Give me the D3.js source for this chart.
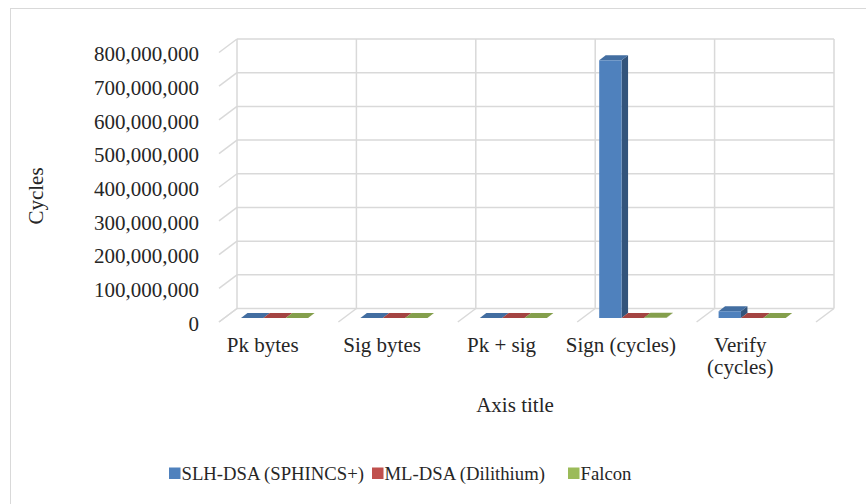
<!DOCTYPE html>
<html>
<head>
<meta charset="utf-8">
<script src="https://cdn.jsdelivr.net/npm/d3@7"></script>
<style>
  html, body { margin: 0; padding: 0; background: #fff; }
  svg { display: block; }
</style>
</head>
<body>
<svg id="chart" width="866" height="504"></svg>
<script>
// Categories on the x axis
const categories = ["Pk bytes", "Sig bytes", "Pk + sig", "Sign (cycles)", "Verify (cycles)"];
// Wrapped label lines for each category
const categoryLines = [["Pk bytes"], ["Sig bytes"], ["Pk + sig"], ["Sign (cycles)"], ["Verify", "(cycles)"]];

// Series
const seriesNames = ["SLH-DSA (SPHINCS+)", "ML-DSA (Dilithium)", "Falcon"];
const slhDsa = [32, 7856, 7888, 765000000, 20000000];
const mlDsa = [1312, 2420, 3732, 330000, 120000];
const falcon = [897, 666, 1563, 1000000, 80000];
const seriesValues = [slhDsa, mlDsa, falcon];
const seriesColors = ["#4f81bd", "#c0504d", "#9bbb59"];

// Value axis ticks
const yTicks = [0, 100000000, 200000000, 300000000, 400000000, 500000000, 600000000, 700000000, 800000000];

const FONT = "'Liberation Serif'";
const textFill = "#262626";
const svg = d3.select("#chart");

// Shared text styling
function label(sel, size = 21) {
  return sel.style("font-family", FONT).attr("font-size", size).attr("fill", textFill);
}

// Chart area frame
svg.append("rect")
  .attr("x", 10.5).attr("y", 8.5).attr("width", 900).attr("height", 600)
  .attr("fill", "none").attr("stroke", "#d9d9d9").attr("stroke-width", 1);

// Back wall geometry
const wallLeft = 237, wallRight = 834, wallTop = 39, wallBottom = 308.5;
// Oblique depth from back wall to front edge of the floor
const depthX = -18, depthY = 13.5;
// Bar placement relative to the back wall base, and bar depth
const barFrontDX = 4, barFrontDY = 9.5;
const barDepthX = 6.5, barDepthY = -5;
const clusterFrac = 0.562;

const x = d3.scaleBand().domain(categories).range([wallLeft, wallRight]).padding(0);
const y = d3.scaleLinear().domain([0, 800000000]).range([wallBottom, wallTop]);
const inner = d3.scaleBand().domain(d3.range(seriesNames.length))
  .range([0, x.bandwidth() * clusterFrac]).padding(0);

const grid = svg.append("g").attr("stroke", "#d9d9d9").attr("stroke-width", 1.5).attr("fill", "none");

// Horizontal gridlines on the back wall plus side-wall diagonals
yTicks.forEach(t => {
  const yy = y(t);
  grid.append("line").attr("x1", wallLeft).attr("x2", wallRight).attr("y1", yy).attr("y2", yy);
  grid.append("line").attr("x1", wallLeft).attr("y1", yy)
    .attr("x2", wallLeft + depthX).attr("y2", yy + depthY);
});

// Vertical category dividers on the back wall and floor diagonals
const dividers = categories.map(c => x(c)).concat([wallRight]);
dividers.forEach(xx => {
  grid.append("line").attr("x1", xx).attr("x2", xx).attr("y1", wallTop).attr("y2", wallBottom);
  grid.append("line").attr("x1", xx).attr("y1", wallBottom)
    .attr("x2", xx + depthX).attr("y2", wallBottom + depthY);
});

// Y axis labels
const fmt = d3.format(",");
svg.append("g").selectAll("text").data(yTicks).join("text")
  .call(label)
  .attr("x", 199)
  .attr("y", d => y(d) + depthY + 1.5)
  .attr("dy", "0.35em")
  .attr("text-anchor", "end")
  .text(d => fmt(d));

// 3D columns
const shade = (c, k) => d3.color(c).darker(k).formatHex();
const bars = svg.append("g");
categories.forEach((cat, ci) => {
  seriesValues.forEach((vals, si) => {
    const v = vals[ci];
    const x0 = x(cat) + barFrontDX + inner(si);
    const x1 = x0 + inner.bandwidth();
    const base = wallBottom + barFrontDY;
    const top = base - (wallBottom - y(v));
    const col = seriesColors[si];
    const g = bars.append("g");
    // right side face
    g.append("path")
      .attr("d", `M${x1},${base}L${x1 + barDepthX},${base + barDepthY}L${x1 + barDepthX},${top + barDepthY}L${x1},${top}Z`)
      .attr("fill", shade(col, 1.2));
    // top face
    g.append("path")
      .attr("d", `M${x0},${top}L${x1},${top}L${x1 + barDepthX},${top + barDepthY}L${x0 + barDepthX},${top + barDepthY}Z`)
      .attr("fill", shade(col, 0.45));
    // front face
    if (base - top > 0.5) {
      g.append("rect")
        .attr("x", x0).attr("y", top).attr("width", x1 - x0).attr("height", base - top)
        .attr("fill", col);
    }
  });
});

// Category labels
const catG = svg.append("g");
categories.forEach((cat, ci) => {
  const cx = x(cat) + x.bandwidth() / 2 - 34;
  const t = catG.append("text")
    .call(label)
    .attr("x", cx).attr("y", 352)
    .attr("text-anchor", "middle");
  categoryLines[ci].forEach((line, li) => {
    t.append("tspan").attr("x", cx).attr("dy", li === 0 ? 0 : 22).text(line);
  });
});

// Axis titles
svg.append("text")
  .call(label)
  .attr("x", 515).attr("y", 412)
  .attr("text-anchor", "middle")
  .text("Axis title");

svg.append("text")
  .call(label)
  .attr("transform", "translate(43,196) rotate(-90)")
  .attr("text-anchor", "middle")
  .text("Cycles");

// Legend
const legendX = [169, 372, 568];
const legend = svg.append("g");
seriesNames.forEach((name, i) => {
  legend.append("rect")
    .attr("x", legendX[i]).attr("y", 467.5)
    .attr("width", 11.5).attr("height", 11.5)
    .attr("fill", seriesColors[i]);
  legend.append("text")
    .call(label, 18.7)
    .attr("x", legendX[i] + 12.5).attr("y", 479.5)
    .text(name);
});
</script>
</body>
</html>
